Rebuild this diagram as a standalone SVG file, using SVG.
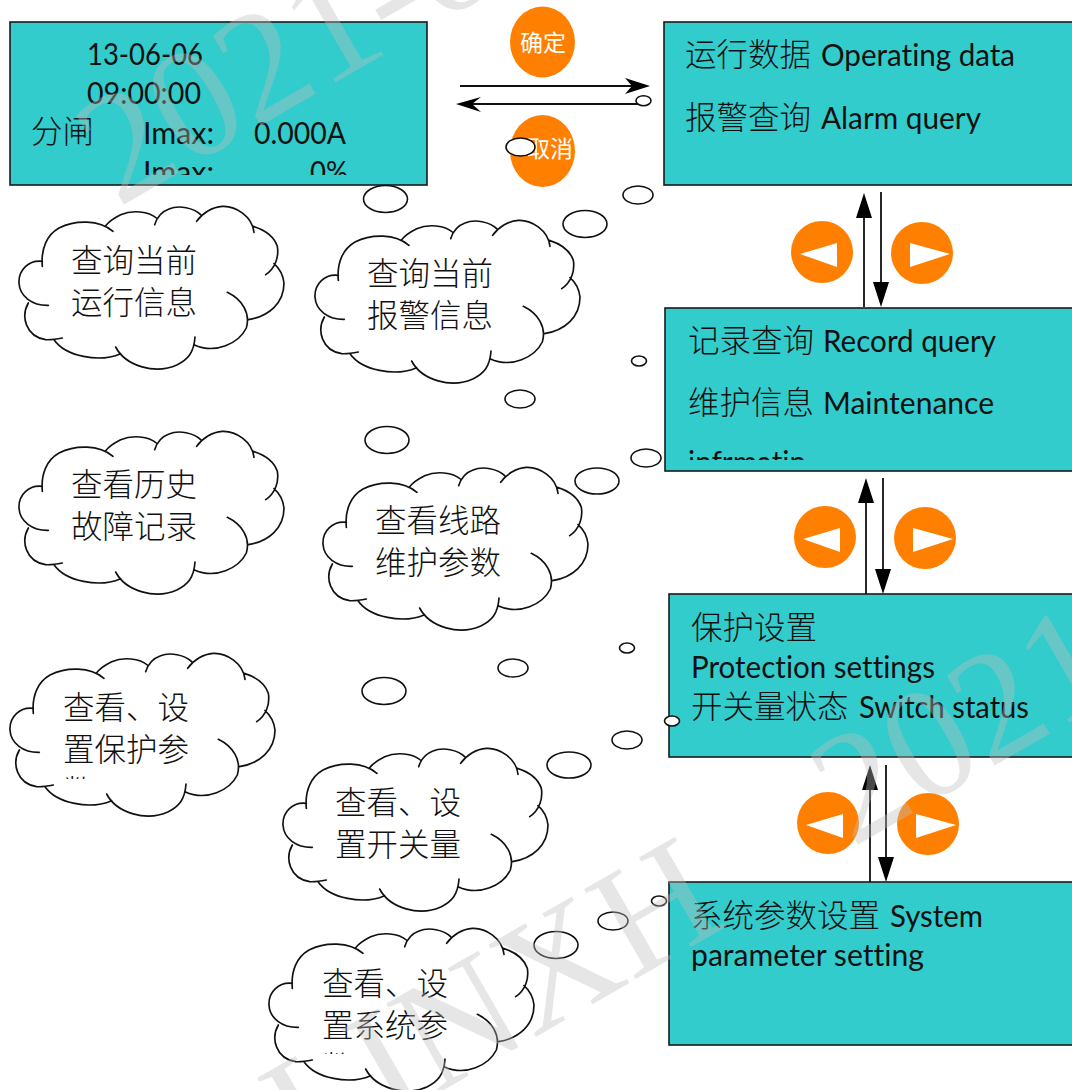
<svg xmlns="http://www.w3.org/2000/svg" width="1072" height="1090" viewBox="0 0 1072 1090">
<style>
.box{fill:#33cccc;stroke:#1a1a1a;stroke-width:1.6}
.t{font-family:"Noto Sans CJK SC",sans-serif;font-size:31.5px;fill:#111;font-weight:300}
.l{font-family:Lato,"Liberation Sans",sans-serif;font-size:30px;fill:#111;font-variant-ligatures:none}
.w{font-family:"Noto Sans CJK SC",sans-serif;font-size:23px;fill:#fff}
.or{fill:#ff8000}
.tri{fill:#fff}
.b{fill:#fff;stroke:#111;stroke-width:1.6}
.cl{fill:none;stroke:#111;stroke-width:5;stroke-linecap:round}
.bg{fill:#fff;stroke:none}
.ln{stroke:#111;stroke-width:1.8;fill:none}
.ah{fill:#000}
.wm{font-family:"Liberation Serif",serif;font-size:158px;fill:#bdbdbd;fill-opacity:.38}
</style>
<defs>
<clipPath id="c1"><rect x="10" y="22" width="417" height="153"/></clipPath>
<clipPath id="c3"><rect x="665" y="308" width="407" height="152"/></clipPath>
<clipPath id="c6"><rect x="0" y="640" width="300" height="139"/></clipPath>
<clipPath id="c7"><rect x="250" y="915" width="300" height="139"/></clipPath>
<g id="cloud" transform="scale(.33333)">
<path class="bg" d="M100 205C60 200 28 230 30 270C32 300 40 320 58 330C35 370 50 430 135 440C170 490 270 510 325 475C350 520 440 545 505 515C530 505 550 480 556 455C620 485 690 450 718 380C780 370 825 330 825 270C822 245 810 225 795 212C810 190 810 175 805 160C795 130 765 110 733 100C720 60 680 38 640 40C610 42 585 50 575 65C555 45 510 35 480 48C465 52 450 62 442 75C420 55 370 50 335 65C315 75 300 85 290 98C270 80 200 80 150 105C115 125 95 165 100 205Z"/>
<path class="cl" d="M100 205C60 200 28 230 30 270C32 310 70 338 118 337M58 330C35 370 50 430 110 440C125 441 145 438 160 435M135 440C170 490 270 510 335 482M320 462C350 520 440 545 505 515C535 500 555 480 558 432M555 455C620 485 690 450 712 405C725 360 700 320 655 298M718 380C780 370 825 330 825 270C822 245 810 225 795 212M770 245C800 225 810 190 805 160C795 130 765 110 733 100M735 118C730 70 680 38 640 40C610 42 580 60 563 85M575 65C555 45 510 35 480 48C460 55 445 70 437 95M442 75C420 55 370 50 335 65C315 75 300 85 290 98M312 115C270 80 200 80 150 105C115 125 95 165 100 220"/>
</g>
</defs>

<g id="box-status">
<rect class="box" x="10" y="22" width="417" height="163"/>
<g clip-path="url(#c1)">
<text class="l" x="87" y="65" textLength="116" lengthAdjust="spacingAndGlyphs">13-06-06</text>
<text class="l" x="87" y="104" textLength="114" lengthAdjust="spacingAndGlyphs">09:00:00</text>
<text class="t" x="31" y="143">分闸</text>
<text class="l" x="143" y="144" textLength="71" lengthAdjust="spacingAndGlyphs">Imax:</text>
<text class="l" x="254" y="144" textLength="92" lengthAdjust="spacingAndGlyphs">0.000A</text>
<text class="l" x="143" y="183" textLength="71" lengthAdjust="spacingAndGlyphs">Imax:</text>
<text class="l" x="310" y="183" textLength="38" lengthAdjust="spacingAndGlyphs">0%</text>
</g>
</g>
<g id="box-data">
<rect class="box" x="664" y="22" width="420" height="163"/>
<text class="t" x="685" y="66">运行数据</text>
<text class="l" x="821" y="66" textLength="194" lengthAdjust="spacingAndGlyphs">Operating data</text>
<text class="t" x="685" y="129">报警查询</text>
<text class="l" x="821" y="129" textLength="160" lengthAdjust="spacingAndGlyphs">Alarm query</text>
</g>
<g id="box-record">
<rect class="box" x="665" y="308" width="420" height="163"/>
<g clip-path="url(#c3)">
<text class="t" x="688" y="352">记录查询</text>
<text class="l" x="823" y="352" textLength="173" lengthAdjust="spacingAndGlyphs">Record query</text>
<text class="t" x="688" y="414">维护信息</text>
<text class="l" x="823" y="414" textLength="171" lengthAdjust="spacingAndGlyphs">Maintenance</text>
<text class="l" x="688" y="473" textLength="118" lengthAdjust="spacingAndGlyphs">infrmatin</text>
</g>
</g>
<g id="box-protection">
<rect class="box" x="669" y="594" width="420" height="163"/>
<text class="t" x="691" y="639">保护设置</text>
<text class="l" x="691" y="678" textLength="244" lengthAdjust="spacingAndGlyphs">Protection settings</text>
<text class="t" x="691" y="718">开关量状态</text>
<text class="l" x="859" y="718" textLength="170" lengthAdjust="spacingAndGlyphs">Switch status</text>
</g>
<g id="box-system">
<rect class="box" x="669" y="882" width="420" height="163"/>
<text class="t" x="691" y="927">系统参数设置</text>
<text class="l" x="890" y="927" textLength="93" lengthAdjust="spacingAndGlyphs">System</text>
<text class="l" x="691" y="966" textLength="233" lengthAdjust="spacingAndGlyphs">parameter setting</text>
</g>

<g id="btn-ok"><ellipse class="or" cx="542.5" cy="42" rx="32.5" ry="35.5"/><text class="w" x="520" y="51">确定</text></g>
<g id="btn-cancel"><ellipse class="or" cx="542.5" cy="151" rx="32.5" ry="36"/><text class="w" x="527" y="157">取消</text></g>

<g id="nav-1">
<circle class="or" cx="822" cy="252" r="31"/><path class="tri" d="M800 254L837 243V267Z"/>
<circle class="or" cx="922" cy="253" r="31"/><path class="tri" d="M910 243L950 254L910 267Z"/>
</g>
<g id="nav-2" transform="translate(3 285)">
<circle class="or" cx="822" cy="252" r="31"/><path class="tri" d="M800 254L837 243V267Z"/>
<circle class="or" cx="922" cy="253" r="31"/><path class="tri" d="M910 243L950 254L910 267Z"/>
</g>
<g id="nav-3" transform="translate(6 571)">
<circle class="or" cx="822" cy="252" r="31"/><path class="tri" d="M800 254L837 243V267Z"/>
<circle class="or" cx="922" cy="253" r="31"/><path class="tri" d="M910 243L950 254L910 267Z"/>
</g>

<g id="connectors">
<path class="ln" d="M460 86H632M640 104H472"/>
<path class="ah" d="M650 86L625 78L632 86L625 94ZM456 104L481 97L472 104L481 112Z"/>
<path class="ln" d="M864 307V215M881 192V285M866 594V500M883 478V570M870 882V788M886 765V858"/>
<path class="ah" d="M864 193L872 218H856ZM881 307L889 282H873ZM866 478L874 503H858ZM883 594L891 569H875ZM870 765L878 790H862ZM886 882L894 857H878Z"/>
</g>

<g id="cloud-run"><use href="#cloud" x="9" y="193"/><text class="t" x="71" y="272">查询当前</text><text class="t" x="71" y="314">运行信息</text></g>
<g id="cloud-alarm"><use href="#cloud" x="305" y="207"/><text class="t" x="367" y="285">查询当前</text><text class="t" x="367" y="327">报警信息</text></g>
<g id="cloud-fault"><use href="#cloud" x="9" y="418"/><text class="t" x="71" y="496">查看历史</text><text class="t" x="71" y="538">故障记录</text></g>
<g id="cloud-line"><use href="#cloud" x="313" y="454"/><text class="t" x="375" y="532">查看线路</text><text class="t" x="375" y="574">维护参数</text></g>
<g id="cloud-prot"><use href="#cloud" x="0" y="640"/><g clip-path="url(#c6)"><text class="t" x="63" y="719">查看、设</text><text class="t" x="63" y="761">置保护参</text><text class="t" x="63" y="803">数</text></g></g>
<g id="cloud-switch"><use href="#cloud" x="273" y="735"/><text class="t" x="335" y="814">查看、设</text><text class="t" x="335" y="856">置开关量</text></g>
<g id="cloud-sys"><use href="#cloud" x="259" y="915"/><g clip-path="url(#c7)"><text class="t" x="322" y="995">查看、设</text><text class="t" x="322" y="1037">置系统参</text><text class="t" x="322" y="1079">数</text></g></g>

<g id="bubbles">
<ellipse class="b" cx="385.500" cy="199" rx="22" ry="13.500"/>
<ellipse class="b" cx="638" cy="195" rx="15" ry="9"/>
<ellipse class="b" cx="585" cy="224" rx="22" ry="13.500"/>
<ellipse class="b" cx="643.500" cy="100.700" rx="7.500" ry="5"/>
<ellipse class="b" cx="520.500" cy="147" rx="14.500" ry="9"/>
<ellipse class="b" cx="639" cy="361" rx="7.500" ry="5"/>
<ellipse class="b" cx="520" cy="399" rx="15" ry="9"/>
<ellipse class="b" cx="387" cy="440" rx="22" ry="13.500"/>
<ellipse class="b" cx="646" cy="458" rx="15" ry="9"/>
<ellipse class="b" cx="597" cy="481" rx="22" ry="13"/>
<ellipse class="b" cx="627" cy="648" rx="7.500" ry="5"/>
<ellipse class="b" cx="513" cy="668" rx="15" ry="9"/>
<ellipse class="b" cx="384" cy="691" rx="22" ry="13.500"/>
<ellipse class="b" cx="672" cy="721" rx="7.500" ry="5"/>
<ellipse class="b" cx="627" cy="740" rx="15" ry="9"/>
<ellipse class="b" cx="569" cy="765" rx="22" ry="13"/>
<ellipse class="b" cx="659" cy="901" rx="7.500" ry="5"/>
<ellipse class="b" cx="613" cy="921" rx="15" ry="9"/>
<ellipse class="b" cx="556" cy="945" rx="22" ry="13.500"/>
</g>

<g id="watermark">
<text class="wm" transform="translate(118 208) rotate(-30)">2021-0</text>
<text class="wm" transform="translate(852 848) rotate(-30)">2021</text>
<text class="wm" transform="translate(305 1170) rotate(-30)">LINXH</text>
</g>
</svg>
